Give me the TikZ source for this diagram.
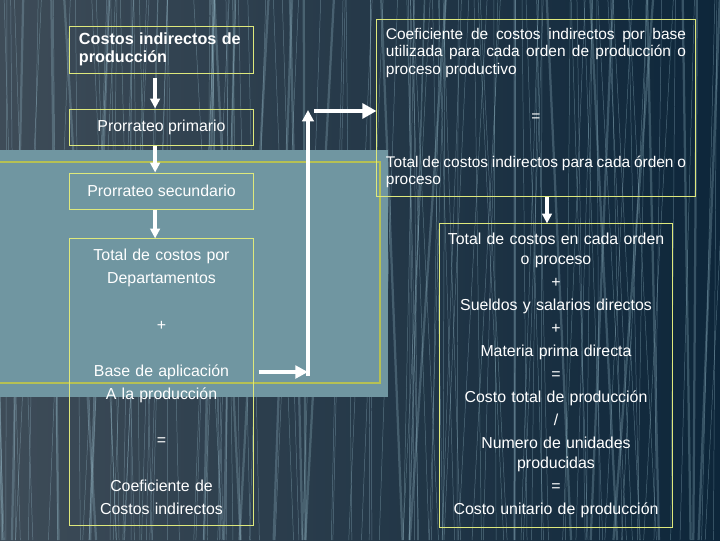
\documentclass[tikz,border=0pt]{standalone}
\usepackage{fontspec}
\setmainfont{Liberation Sans}
\usetikzlibrary{arrows.meta}
\definecolor{SlideLeft}{RGB}{62,76,88}
\definecolor{SlideRight}{RGB}{13,38,58}
\definecolor{SlideBand}{RGB}{112,150,161}
\definecolor{SlideLine}{RGB}{150,186,200}
\definecolor{BoxEdge}{RGB}{222,232,124}
\definecolor{BandEdge}{RGB}{182,192,84}

\begin{document}
\begin{tikzpicture}[x=0.025cm, y=-0.025cm,
    fbox/.style={rectangle, draw=BoxEdge, line width=0.7pt, text=white,
                 inner sep=0pt, font=\fontsize{11.3}{16.4}\selectfont},
    arr/.style={-{Triangle[length=7pt, width=6.8pt]}, draw=white, line width=2.8pt},
    bigarr/.style={arr, -{Triangle[length=10pt, width=10.5pt]}}
  ]
  \useasboundingbox (0,0) rectangle (720,540);
  \shade[left color=SlideLeft, right color=SlideRight] (0,0) rectangle (720,540);

  \pgfmathsetseed{11}
  \foreach \k in {1,...,120}{
    \pgfmathsetmacro{\xa}{-20+760*rnd}
    \pgfmathsetmacro{\xb}{\xa-30+60*rnd}
    \draw[SlideLine, opacity=0.45, line width=0.35pt] (\xa,0) -- (\xb,540);
  }
  \foreach \k in {1,...,25}{
    \pgfmathsetmacro{\xa}{-20+760*rnd}
    \pgfmathsetmacro{\xb}{\xa-40+80*rnd}
    \draw[SlideLine, opacity=0.3, line width=1.6pt] (\xa,0) -- (\xb,540);
  }

  \fill[SlideBand] (0,150) rectangle (388,397);
  \draw[BandEdge, line width=1.4pt] (-2,162) rectangle (380,383);

  \node[fbox, minimum width=4.575cm, minimum height=1.175cm, text width=4.125cm,
        align=left, font=\fontsize{11.5}{12.5}\selectfont\bfseries] (cid) at (161.5,49.5)
        {Costos indirectos de\\producción};
  \node[fbox, minimum width=4.575cm, minimum height=0.9cm] (primario) at (161.5,127)
        {Prorrateo primario};
  \node[fbox, minimum width=4.575cm, minimum height=0.9cm] (secundario) at (161.5,191)
        {Prorrateo secundario};
  \node[fbox, minimum width=4.575cm, minimum height=7.15cm, text width=4.2cm,
        align=center] (dept) at (161.5,382)
        {Total de costos por\\Departamentos\\[16.4pt]+\\[16.4pt]Base de aplicación\\A la producción\\[16.4pt]=\\[16.4pt]Coeficiente de\\Costos indirectos};

  \node[fbox, minimum width=7.95cm, minimum height=4.4cm, text width=7.5cm,
        align=justify, font=\fontsize{11}{12.5}\selectfont] (coef) at (536,108)
        {\hyphenpenalty=10000\exhyphenpenalty=10000
         Coeficiente de costos indirectos por base utilizada para cada orden de producción o proceso productivo\par
         \vskip 21pt
         {\centering =\par}
         \vskip 20pt
         Total de costos indirectos para cada órden o proceso};
  \node[fbox, minimum width=5.8cm, minimum height=7.575cm, text width=5.6cm,
        align=center, font=\fontsize{11.3}{14.2}\selectfont] (unit) at (556,375.5)
        {Total de costos en cada orden\\o proceso\\[2.2pt]+\\[2.2pt]Sueldos y salarios directos\\[2.2pt]+\\[2.2pt]Materia prima directa\\[2.2pt]=\\[2.2pt]Costo total de producción\\[2.2pt]/\\[2.2pt]Numero de unidades\\producidas\\[2.2pt]=\\[2.2pt]Costo unitario de producción};

  \coordinate (elbow)   at (308,372);
  \coordinate (riseTop) at (308,110);
  \coordinate (feedIn)  at (314,111);

  \draw[arr, shorten <=3pt] ([xshift=-0.16cm]cid.south) -- ([xshift=-0.16cm]primario.north);
  \draw[arr] ([xshift=-0.16cm]primario.south) -- ([xshift=-0.16cm]secundario.north);
  \draw[arr] ([xshift=-0.16cm]secundario.south) -- ([xshift=-0.16cm]dept.north);

  \draw[arr, -{Triangle[length=9pt, width=9pt]}] ([shift={(5,-10)}]dept.east) -- (elbow);
  \draw[arr, -{Triangle[length=8pt, width=8pt]}] ([yshift=-0.1cm]elbow) -- (riseTop);
  \draw[bigarr] (feedIn) -- (feedIn -| coef.west);

  \draw[arr] ([xshift=0.275cm]coef.south) -- ([xshift=0.275cm]coef.south |- unit.north);
\end{tikzpicture}
\end{document}
